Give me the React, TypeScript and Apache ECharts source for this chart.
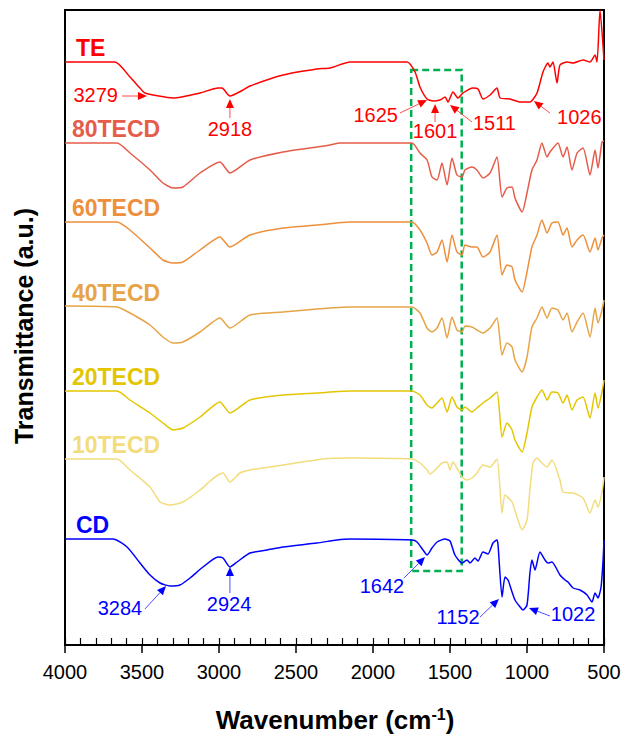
import React, { useEffect, useRef } from "react";
import * as echarts from "echarts";

// Wavenumber (cm-1) / transmittance (a.u., offset-stacked) pairs
const TE: [number, number][] = [
  [4000, 583], [3675, 583], [3578, 568], [3513, 557], [3481, 552], [3299, 547], [3123, 552], [3006, 557],
  [2981, 557], [2929, 549], [2844, 555], [2799, 559], [2584, 570], [2364, 576], [2279, 577], [2149, 583],
  [2065, 583], [1779, 583], [1727, 573], [1695, 558], [1649, 546], [1610, 544], [1565, 545], [1532, 548],
  [1513, 543], [1481, 553], [1448, 547], [1416, 552], [1351, 557], [1318, 556], [1286, 546], [1240, 550],
  [1195, 557], [1175, 547], [1110, 546], [1045, 543], [981, 543], [935, 552], [896, 573], [864, 582],
  [851, 578], [831, 583], [805, 562], [786, 580], [740, 583], [701, 582], [636, 585], [591, 583],
  [558, 590], [545, 583], [526, 635], [500, 585],
];
const TECD80: [number, number][] = [
  [4000, 502], [3662, 502], [3578, 492], [3448, 475], [3364, 462], [3299, 457], [3234, 458], [3123, 472],
  [2994, 483], [2929, 472], [2799, 485], [2584, 493], [2364, 498], [2279, 500], [2214, 502], [1747, 502],
  [1695, 492], [1649, 485], [1617, 468], [1584, 465], [1552, 482], [1519, 460], [1487, 487], [1455, 470],
  [1422, 468], [1403, 475], [1357, 478], [1325, 475], [1286, 467], [1240, 472], [1195, 488], [1162, 448],
  [1130, 457], [1097, 458], [1078, 447], [1032, 433], [1000, 452], [968, 475], [935, 485], [903, 502],
  [870, 488], [851, 493], [799, 502], [766, 488], [740, 498], [708, 475], [675, 492], [636, 497],
  [591, 470], [558, 495], [539, 477], [513, 503], [500, 504],
];
const TECD60: [number, number][] = [
  [4000, 423], [3662, 423], [3578, 415], [3448, 397], [3364, 385], [3299, 382], [3234, 383], [3123, 395],
  [2994, 408], [2929, 398], [2799, 410], [2584, 417], [2364, 420], [2149, 423], [1747, 423], [1695, 415],
  [1649, 402], [1617, 390], [1584, 393], [1552, 405], [1519, 383], [1487, 410], [1455, 393], [1422, 390],
  [1403, 400], [1357, 398], [1325, 398], [1286, 388], [1240, 393], [1195, 410], [1162, 370], [1130, 380],
  [1097, 378], [1078, 365], [1032, 353], [1000, 373], [968, 398], [935, 410], [903, 425], [870, 412],
  [838, 422], [799, 423], [766, 410], [740, 417], [708, 398], [675, 405], [636, 410], [591, 393],
  [558, 407], [539, 395], [513, 407], [500, 410],
];
const TECD40: [number, number][] = [
  [4000, 339], [3662, 338], [3578, 332], [3448, 320], [3364, 308], [3299, 302], [3234, 303], [3123, 313],
  [2994, 327], [2929, 317], [2799, 330], [2584, 333], [2364, 336], [2149, 338], [1747, 338], [1695, 332],
  [1649, 317], [1617, 313], [1584, 317], [1552, 327], [1519, 307], [1487, 328], [1455, 315], [1422, 313],
  [1403, 319], [1357, 318], [1325, 315], [1286, 312], [1240, 317], [1195, 327], [1162, 290], [1130, 302],
  [1097, 298], [1078, 285], [1032, 273], [1000, 288], [968, 318], [935, 327], [903, 338], [870, 327],
  [838, 337], [799, 335], [766, 325], [740, 332], [708, 313], [675, 323], [636, 332], [591, 308],
  [558, 337], [539, 322], [513, 335], [500, 345],
];
const TECD20: [number, number][] = [
  [4000, 254], [3662, 254], [3578, 245], [3448, 232], [3364, 222], [3299, 215], [3234, 217], [3123, 228],
  [2994, 243], [2929, 232], [2799, 245], [2584, 250], [2364, 252], [2149, 254], [1747, 254], [1695, 250],
  [1649, 240], [1617, 237], [1584, 242], [1552, 247], [1519, 233], [1487, 248], [1455, 238], [1422, 235],
  [1403, 238], [1357, 233], [1325, 237], [1286, 242], [1240, 247], [1195, 253], [1162, 208], [1130, 222],
  [1097, 215], [1078, 205], [1032, 193], [1000, 212], [968, 238], [935, 248], [903, 255], [870, 245],
  [838, 253], [799, 252], [766, 242], [740, 250], [708, 235], [675, 245], [636, 248], [591, 227],
  [558, 252], [539, 237], [513, 253], [500, 265],
];
const TECD10: [number, number][] = [
  [4000, 186], [3662, 186], [3578, 175], [3448, 158], [3383, 143], [3318, 140], [3234, 143], [3123, 155],
  [3058, 164], [3006, 170], [2974, 172], [2929, 163], [2864, 172], [2799, 175], [2584, 180], [2325, 186],
  [2149, 187], [1747, 186], [1695, 182], [1649, 175], [1630, 171], [1584, 177], [1552, 182], [1519, 183],
  [1500, 175], [1481, 183], [1455, 177], [1422, 168], [1390, 165], [1357, 167], [1325, 172], [1286, 180],
  [1240, 178], [1195, 186], [1162, 132], [1143, 150], [1097, 143], [1065, 128], [1032, 115], [1000, 125],
  [981, 155], [961, 182], [935, 187], [903, 182], [870, 178], [838, 185], [786, 165], [766, 153],
  [701, 152], [636, 147], [591, 132], [558, 145], [539, 138], [513, 153], [500, 168],
];
const CD: [number, number][] = [
  [4000, 106], [3688, 106], [3597, 98], [3513, 82], [3448, 70], [3383, 62], [3318, 59], [3253, 60],
  [3188, 67], [3104, 78], [3006, 88], [2974, 87], [2929, 78], [2883, 83], [2799, 92], [2688, 95],
  [2584, 98], [2364, 102], [2234, 105], [2149, 106], [1747, 105], [1714, 103], [1675, 95], [1649, 90],
  [1617, 97], [1584, 103], [1532, 106], [1500, 104], [1468, 90], [1422, 82], [1390, 85], [1370, 82],
  [1338, 87], [1318, 84], [1286, 93], [1253, 91], [1221, 102], [1195, 105], [1188, 100], [1162, 48],
  [1143, 68], [1123, 65], [1097, 53], [1078, 45], [1045, 38], [1026, 35], [1000, 40], [981, 72],
  [968, 85], [948, 75], [916, 93], [883, 85], [864, 82], [838, 83], [786, 70], [753, 65],
  [734, 63], [701, 57], [656, 55], [610, 50], [578, 43], [558, 52], [539, 47], [519, 58],
  [506, 85], [500, 105],
];

const SERIES_NAMES = ["TE", "80TECD", "60TECD", "40TECD", "20TECD", "10TECD", "CD"];
const SERIES_DATA = [TE, TECD80, TECD60, TECD40, TECD20, TECD10, CD];
const COLORS = ["#FF0000", "#E65C4A", "#EE8F3C", "#E6A446", "#E4C600", "#F3DC7C", "#0000FF"];
// series label anchor (wavenumber, a.u.)
const LABEL_POS: [number, number][] = [
  [3929, 597], [3955, 516], [3955, 437], [3955, 352], [3955, 268], [3955, 200], [3929, 120],
];

const X_TICKS = [4000, 3500, 3000, 2500, 2000, 1500, 1000, 500];

// Highlighted region (wavenumber range, a.u. range)
const BOX_WN = [1752, 1424];
const BOX_T = [74, 575];

type Ann = { text: string; color: string; t: [number, number]; align: string; from: [number, number]; to: [number, number] };
const PEAKS_TE: Ann[] = [
  { text: "3279", color: "#FF0000", t: [3656, 550], align: "right", from: [3630, 549], to: [3468, 549] },
  { text: "2918", color: "#FF0000", t: [2929, 516], align: "center", from: [2929, 527], to: [2929, 546] },
  { text: "1625", color: "#FF0000", t: [1838, 530], align: "right", from: [1825, 532], to: [1649, 545] },
  { text: "1601", color: "#FF0000", t: [1597, 514], align: "center", from: [1597, 523], to: [1597, 541] },
  { text: "1511", color: "#FF0000", t: [1351, 522], align: "left", from: [1357, 523], to: [1500, 540] },
  { text: "1026", color: "#FF0000", t: [805, 528], align: "left", from: [851, 532], to: [955, 544] },
];
const PEAKS_CD: Ann[] = [
  { text: "3284", color: "#0000FF", t: [3643, 37], align: "center", from: [3481, 36], to: [3344, 59] },
  { text: "2924", color: "#0000FF", t: [2935, 41], align: "center", from: [2929, 52], to: [2929, 78] },
  { text: "1642", color: "#0000FF", t: [1942, 59], align: "center", from: [1799, 67], to: [1662, 88] },
  { text: "1152", color: "#0000FF", t: [1448, 28], align: "center", from: [1305, 28], to: [1182, 46] },
  { text: "1022", color: "#0000FF", t: [701, 31], align: "center", from: [851, 29], to: [987, 37] },
];

const FONT = "'Liberation Sans', Arial, sans-serif";

export default function App() {
  const ref = useRef<HTMLDivElement>(null);
  useEffect(() => {
    document.body.style.margin = "0";
    if (!ref.current) return;
    const chart = echarts.init(ref.current, null, { renderer: "svg" });
    const series: any[] = SERIES_NAMES.map((name, i) => ({
      name,
      type: "line",
      data: SERIES_DATA[i],
      showSymbol: false,
      symbol: "none",
      smooth: 0.2,
      lineStyle: { color: COLORS[i], width: 1.5 },
      z: 2,
    }));
    series.push({
      type: "line",
      data: [],
      markArea: {
        silent: true,
        itemStyle: { color: "rgba(0,0,0,0)", borderColor: "#00B050", borderWidth: 2.5, borderType: [7, 4] },
        data: [[{ coord: [BOX_WN[0], BOX_T[1]] }, { coord: [BOX_WN[1], BOX_T[0]] }]],
      },
      z: 5,
    });
    const option: any = {
      animation: false,
      backgroundColor: "#fff",
      grid: { left: 65, right: 20, top: 10, bottom: 93, show: true, borderColor: "#000", borderWidth: 2, backgroundColor: "transparent" },
      xAxis: [
        {
          type: "value", min: 500, max: 4000, interval: 500, inverse: true, position: "bottom",
          axisLine: { show: true, lineStyle: { color: "#000", width: 2 } },
          axisTick: { show: true, inside: false, length: 8, lineStyle: { color: "#000", width: 1.5 } },
          axisLabel: {
            color: "#000", fontFamily: FONT, fontSize: 20, margin: 17,
            formatter: (v: number) => (X_TICKS.includes(v) ? String(v) : ""),
          },
          splitLine: { show: false },
        },
        {
          type: "value", min: 500, max: 4000, interval: 100, inverse: true, position: "bottom", offset: 0,
          axisLine: { show: false },
          axisTick: { show: true, inside: true, length: 7, lineStyle: { color: "#000", width: 1.2 } },
          axisLabel: { show: false },
          splitLine: { show: false },
        },
      ],
      yAxis: {
        type: "value", min: 0, max: 635,
        axisLine: { show: true, lineStyle: { color: "#000", width: 2 } },
        axisTick: { show: false }, axisLabel: { show: false }, splitLine: { show: false },
      },
      series,
    };
    chart.setOption(option);

    const px = (p: [number, number]) => chart.convertToPixel({ gridIndex: 0 }, p) as number[];
    const graphics: any[] = [];
    SERIES_NAMES.forEach((name, i) => {
      const p = px(LABEL_POS[i]);
      graphics.push({
        type: "text", x: p[0], y: p[1], z: 10,
        style: { text: name, fill: COLORS[i], font: `bold 23px ${FONT}`, align: "left", verticalAlign: "middle" },
      });
    });
    [...PEAKS_TE, ...PEAKS_CD].forEach((a) => {
      const tp = px(a.t);
      graphics.push({
        type: "text", x: tp[0], y: tp[1], z: 10,
        style: { text: a.text, fill: a.color, font: `20px ${FONT}`, align: a.align, verticalAlign: "middle" },
      });
      const f = px(a.from);
      const t = px(a.to);
      const dx = t[0] - f[0];
      const dy = t[1] - f[1];
      const len = Math.sqrt(dx * dx + dy * dy) || 1;
      const ux = dx / len, uy = dy / len;
      const hl = 9, hw = 4;
      const bx = t[0] - ux * hl, by = t[1] - uy * hl;
      graphics.push({
        type: "line", z: 10,
        shape: { x1: f[0], y1: f[1], x2: bx, y2: by },
        style: { stroke: a.color, lineWidth: 1, opacity: 0.7 },
      });
      graphics.push({
        type: "polygon", z: 10,
        shape: { points: [[t[0], t[1]], [bx - uy * hw, by + ux * hw], [bx + uy * hw, by - ux * hw]] },
        style: { fill: a.color },
      });
    });
    graphics.push({
      type: "text", x: 24, y: 326, rotation: Math.PI / 2, z: 10,
      style: { text: "Transmittance (a.u.)", fill: "#000", font: `bold 25px ${FONT}`, align: "center", verticalAlign: "middle" },
    });
    graphics.push({
      type: "text", x: 335, y: 720, z: 10,
      style: {
        text: "{a|Wavenumber (cm}{s|-1}{a|)}",
        align: "center", verticalAlign: "middle",
        rich: {
          a: { fontFamily: FONT, fontWeight: "bold", fontSize: 26, fill: "#000", color: "#000" },
          s: { fontFamily: FONT, fontWeight: "bold", fontSize: 16, fill: "#000", color: "#000", verticalAlign: "top", padding: [0, 0, 12, 0] },
        },
      },
    });
    chart.setOption({ graphic: graphics });
    return () => chart.dispose();
  }, []);
  return <div ref={ref} style={{ width: 624, height: 738 }} />;
}
